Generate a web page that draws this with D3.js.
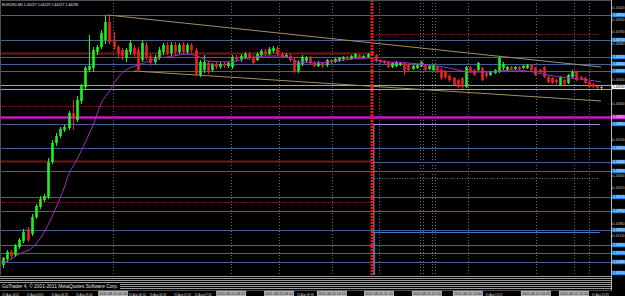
<!DOCTYPE html>
<html><head><meta charset="utf-8">
<script src="https://cdn.jsdelivr.net/npm/d3@7"></script>
<style>html,body{margin:0;padding:0;background:#000;overflow:hidden}svg{display:block}</style>
</head><body>
<script>
// ---------- data ----------
const symbolTitle = "EURUSD,M5  1.44227 1.44229 1.44227 1.44238";
const copyright = "GoTrader 4, \u00A9 2001-2011 MetaQuotes Software Corp.";

const opens = [
1.4245,1.4251,1.4258,1.4255,1.4263,1.4269,1.4281,1.4276,1.4293,1.4303,
1.4310,1.4313,1.4348,1.4367,1.4374,1.4380,1.4382,1.4397,1.4390,1.4409,
1.4423,1.4440,1.4442,1.4458,1.4463,1.4470,1.4488,1.4470,1.4463,1.4460,
1.4452,1.4458,1.4462,1.4460,1.4450,1.4465,1.4454,1.4448,1.4452,1.4458,
1.4465,1.4457,1.4465,1.4458,1.4466,1.4458,1.4465,1.4460,1.4435,1.4440,
1.4447,1.4440,1.4446,1.4443,1.4446,1.4444,1.4443,1.4453,1.4450,1.4453,
1.4456,1.4453,1.4450,1.4455,1.4459,1.4456,1.4459,1.4462,1.4456,1.4453,
1.4454,1.4450,1.4439,1.4446,1.4449,1.4452,1.4447,1.4444,1.4447,1.4445,
1.4450,1.4448,1.4449,1.4451,1.4453,1.4451,1.4453,1.4455,1.4452,1.4453,
1.4458,1.4455,1.4450,1.4449,1.4448,1.4443,1.4444,1.4445,1.4447,1.4446,
1.4441,1.4442,1.4444,1.4445,1.4441,1.4440,1.4443,1.4440,1.4438,1.4434,
1.4432,1.4430,1.4432,1.4423,1.4443,1.4440,1.4440,1.4442,1.4437,1.4435,
1.4437,1.4438,1.4442,1.4440,1.4443,1.4441,1.4443,1.4442,1.4442,1.4445,
1.4442,1.4440,1.4443,1.4433,1.4432,1.4430,1.4425,1.4430,1.4427,1.4433,
1.4438,1.4433,1.4432,1.4428,1.4426,1.4424,1.4422];
const closes = [
1.4252,1.4258,1.4254,1.4264,1.4270,1.4278,1.4270,1.4293,1.4304,1.4311,
1.4314,1.4348,1.4367,1.4374,1.4381,1.4383,1.4397,1.4392,1.4410,1.4424,
1.4442,1.4444,1.4460,1.4463,1.4477,1.4488,1.4468,1.4463,1.4457,1.4454,
1.4460,1.4467,1.4456,1.4440,1.4467,1.4452,1.4447,1.4453,1.4460,1.4465,
1.4457,1.4465,1.4458,1.4465,1.4458,1.4465,1.4460,1.4435,1.4448,1.4448,
1.4438,1.4445,1.4443,1.4446,1.4444,1.4447,1.4453,1.4450,1.4454,1.4456,
1.4452,1.4447,1.4456,1.4459,1.4456,1.4461,1.4462,1.4456,1.4453,1.4455,
1.4450,1.4438,1.4448,1.4453,1.4452,1.4447,1.4444,1.4447,1.4444,1.4450,
1.4448,1.4451,1.4452,1.4453,1.4451,1.4454,1.4456,1.4452,1.4454,1.4456,
1.4455,1.4449,1.4448,1.4447,1.4443,1.4447,1.4448,1.4447,1.4440,1.4440,
1.4444,1.4445,1.4448,1.4440,1.4444,1.4445,1.4438,1.4432,1.4433,1.4430,
1.4425,1.4423,1.4423,1.4443,1.4438,1.4435,1.4447,1.4430,1.4434,1.4438,
1.4440,1.4452,1.4446,1.4443,1.4441,1.4443,1.4441,1.4444,1.4445,1.4440,
1.4435,1.4438,1.4433,1.4428,1.4427,1.4428,1.4433,1.4426,1.4435,1.4438,
1.4430,1.4431,1.4427,1.4423,1.4423,1.4422,1.4423];
const highs = [
1.4253,1.4260,1.4260,1.4266,1.4272,1.4281,1.4283,1.4296,1.4306,1.4314,
1.4316,1.4352,1.4370,1.4377,1.4383,1.4385,1.4399,1.4410,1.4414,1.4426,
1.4444,1.4475,1.4463,1.4465,1.4480,1.4495,1.4494,1.4478,1.4465,1.4462,
1.4462,1.4470,1.4465,1.4463,1.4470,1.4468,1.4456,1.4455,1.4463,1.4467,
1.4468,1.4468,1.4468,1.4467,1.4468,1.4467,1.4467,1.4462,1.4450,1.4455,
1.4449,1.4447,1.4448,1.4448,1.4448,1.4449,1.4455,1.4455,1.4456,1.4458,
1.4458,1.4455,1.4458,1.4461,1.4461,1.4463,1.4464,1.4464,1.4458,1.4457,
1.4456,1.4452,1.4450,1.4455,1.4454,1.4454,1.4449,1.4449,1.4448,1.4451,
1.4451,1.4452,1.4453,1.4454,1.4454,1.4455,1.4457,1.4456,1.4455,1.4457,
1.4459,1.4456,1.4451,1.4450,1.4449,1.4448,1.4449,1.4448,1.4448,1.4447,
1.4445,1.4446,1.4449,1.4446,1.4445,1.4446,1.4444,1.4442,1.4440,1.4436,
1.4433,1.4431,1.4433,1.4444,1.4444,1.4441,1.4448,1.4443,1.4438,1.4439,
1.4441,1.4454,1.4448,1.4444,1.4444,1.4444,1.4444,1.4445,1.4446,1.4446,
1.4443,1.4441,1.4444,1.4434,1.4433,1.4431,1.4434,1.4431,1.4436,1.4440,
1.4439,1.4434,1.4433,1.4429,1.4427,1.4425,1.4424];
const lows = [
1.4242,1.4248,1.4251,1.4253,1.4261,1.4267,1.4268,1.4274,1.4291,1.4301,
1.4308,1.4311,1.4346,1.4364,1.4372,1.4378,1.4380,1.4380,1.4388,1.4406,
1.4420,1.4438,1.4438,1.4455,1.4461,1.4466,1.4466,1.4460,1.4453,1.4450,
1.4448,1.4455,1.4453,1.4438,1.4448,1.4450,1.4444,1.4445,1.4450,1.4455,
1.4455,1.4454,1.4455,1.4456,1.4456,1.4456,1.4457,1.4434,1.4433,1.4437,
1.4436,1.4438,1.4441,1.4441,1.4442,1.4442,1.4441,1.4448,1.4448,1.4451,
1.4450,1.4445,1.4449,1.4453,1.4454,1.4455,1.4457,1.4454,1.4452,1.4452,
1.4448,1.4437,1.4437,1.4444,1.4447,1.4445,1.4443,1.4443,1.4442,1.4443,
1.4446,1.4447,1.4448,1.4449,1.4450,1.4450,1.4452,1.4451,1.4451,1.4452,
1.4454,1.4448,1.4447,1.4446,1.4442,1.4442,1.4443,1.4444,1.4435,1.4439,
1.4440,1.4441,1.4443,1.4439,1.4440,1.4439,1.4437,1.4430,1.4431,1.4428,
1.4424,1.4422,1.4421,1.4422,1.4437,1.4434,1.4439,1.4429,1.4432,1.4434,
1.4436,1.4437,1.4440,1.4439,1.4440,1.4440,1.4440,1.4441,1.4441,1.4439,
1.4434,1.4437,1.4432,1.4427,1.4426,1.4426,1.4424,1.4425,1.4426,1.4432,
1.4429,1.4430,1.4426,1.4422,1.4422,1.4421,1.4421];

// moving average read at sample bars
const maIndex = [0,2,4,7,9,11,13,15,16,18,20,22,24,26,28,30,33,35,38,40,43,45,48,50,55,60,64,68,70,72,77,80,85,89,91,94,99,104,109,114,119,124,128,133,138,143,146];
const maValues = [1.4247,1.4251,1.4256,1.4262,1.4271,1.4285,1.4303,1.4323,1.4335,1.4350,1.4367,1.4385,1.4407,1.4419,1.4432,1.4440,1.4445,1.4448,1.4452,1.4453,1.4455,1.4456,1.4453,1.4449,1.4448,1.4452,1.4454,1.4454,1.4452,1.4448,1.4447,1.4448,1.4451,1.4452,1.4450,1.4448,1.4447,1.4445,1.4442,1.4438,1.4438,1.4440,1.4439,1.4435,1.4432,1.4430,1.4428];

// price axis labels (those not hidden by level boxes)
const priceTicks = [1.4502,1.4490,1.4478,1.4466,1.4430,1.4406,1.4370,1.4334,1.4322,1.4286,1.4274];

// horizontal levels
const blueLevels = [1.4495,1.4470,1.4453,1.4446,1.4439,1.4362,1.4339,1.4313,1.4299,1.4280,1.4257,1.4248];
const lavenderLevels = [1.4425,1.4421];
const magentaLevel = 1.4393;
const splitLevel = 1.4386;
const maroonLevels = [1.4457,1.4349];
const mauveLevel = 1.4265;
const redDottedLeft = [1.4404,1.4308];
const redDottedRight = [1.4476];
const rightSolidLevels = [1.4348];
const rightDottedLevels = [1.4332];
const rightBrightLevels = [1.4278];
const axisBoxLevels = [1.4495,1.4470,1.4453,1.4446,1.4439,1.4386,1.4362,1.4348,1.4339,1.4313,1.4299,1.4280,1.4265,1.4257,1.4248,1.4237];

// trendlines [barIndex, price]
const trendUpper = [[25.5,1.4495],[146,1.4443]];
const trendLower = [[32,1.4439],[146,1.4409]];

// vertical markers (bar index)
const eventBar = 90.1;
const rightEndBar = 145.7;
const separatorBars = [26.9,55.7,67.4,80.3,91.8,101.8,102.5,104.7,105.5,113.5,130.1,139.4,143.1];
const boxBars = [26.9,55.7,67.4,80.3,91.8,103.5,113.5,130.1,139.4];
const boxTimes = ["2011.08.15 05:50","2011.08.15 08:15","2011.08.15 09:10","2011.08.15 10:15","2011.08.15 11:15","2011.08.15 12:10","2011.08.15 13:00","2011.08.15 14:25","2011.08.15 15:10"];
const timeBars = [0,6,12,18,31,36,42,47,72,118,144];
const timeLabels = ["15 Aug 2011","15 Aug 04:05","15 Aug 04:35","15 Aug 05:05","15 Aug 06:10","15 Aug 06:35","15 Aug 07:05","15 Aug 07:30","15 Aug 09:35","15 Aug 13:25","15 Aug 15:35"];

// ---------- drawing ----------
const W = 625, H = 296, plotR = 611, plotB = 275;
const FONT = "Liberation Sans, Arial, sans-serif";
const svg = d3.select("body").append("svg").attr("width", W).attr("height", H).style("background", "#000");
const x = d3.scaleLinear().domain([0, 146]).range([3, 601]);
const y = d3.scaleLinear().domain([1.4235, 1.4510]).range([plotB, 0]);

svg.append("defs").append("clipPath").attr("id", "clip")
  .append("rect").attr("x", 0).attr("y", 0).attr("width", plotR).attr("height", plotB);
const plot = svg.append("g").attr("clip-path", "url(#clip)");

function hline(p, x0, x1, color, w, dash) {
  plot.append("line").attr("x1", x0).attr("x2", x1).attr("y1", Math.round(y(p)) + 0.5).attr("y2", Math.round(y(p)) + 0.5)
    .attr("stroke", color).attr("stroke-width", w).attr("stroke-dasharray", dash || null);
}

// separators
separatorBars.forEach(b => {
  plot.append("line").attr("x1", Math.round(x(b)) + 0.5).attr("x2", Math.round(x(b)) + 0.5).attr("y1", 0).attr("y2", plotB)
    .attr("stroke", "#6a6a6a").attr("stroke-width", 1).attr("stroke-dasharray", "1,2");
});

const xEvent = x(eventBar), xRightEnd = x(rightEndBar);
blueLevels.forEach(p => hline(p, 0, plotR, "#44618f", 1));
lavenderLevels.forEach(p => hline(p, 0, plotR, "#9c9cd8", 1));
maroonLevels.forEach(p => hline(p, 0, xEvent, "#6e1818", 2));
hline(mauveLevel, 0, xEvent, "#95486a", 1);
hline(mauveLevel, xEvent, plotR, "#44618f", 1);
redDottedLeft.forEach(p => hline(p, 0, xEvent, "#a01414", 1, "1,1"));
redDottedRight.forEach(p => hline(p, xEvent, xRightEnd, "#a01414", 1, "1,1"));
rightSolidLevels.forEach(p => hline(p, xEvent, plotR, "#44618f", 1));
rightDottedLevels.forEach(p => hline(p, xEvent, xRightEnd, "#5a7ab0", 1, "1,1.5"));
rightBrightLevels.forEach(p => hline(p, xEvent, xRightEnd, "#3a7cd0", 1));
hline(splitLevel, 0, xEvent, "#44618f", 1);
hline(splitLevel, xEvent, xRightEnd, "#a48ee0", 1);
hline(magentaLevel, 0, plotR, "#c21cc2", 2.5);

// trendlines
[trendUpper, trendLower].forEach(t => {
  plot.append("line").attr("x1", x(t[0][0])).attr("y1", y(t[0][1])).attr("x2", x(t[1][0])).attr("y2", y(t[1][1]))
    .attr("stroke", "#a68c62").attr("stroke-width", 1);
});

// vertical markers at event
plot.append("line").attr("x1", xEvent + 1.8).attr("x2", xEvent + 1.8).attr("y1", y(splitLevel)).attr("y2", plotB)
  .attr("stroke", "#a48ee0").attr("stroke-width", 1);
plot.append("line").attr("x1", xEvent + 2.6).attr("x2", xEvent + 2.6).attr("y1", y(rightBrightLevels[0])).attr("y2", plotB)
  .attr("stroke", "#3a7cd0").attr("stroke-width", 1);

// candles
const bars = opens.map((o, i) => ({ i, o, c: closes[i], h: highs[i], l: lows[i] }));
const g = plot.append("g");
bars.forEach(d => {
  const col = d.c >= d.o ? "#22f022" : "#f02020";
  const cx = Math.round(x(d.i)) + 0.5;
  g.append("line").attr("x1", cx).attr("x2", cx).attr("y1", y(d.h)).attr("y2", y(d.l)).attr("stroke", col).attr("stroke-width", 1);
  const top = Math.min(y(d.o), y(d.c)), hgt = Math.max(1, Math.abs(y(d.o) - y(d.c)));
  g.append("rect").attr("x", cx - 1.3).attr("y", top).attr("width", 2.6).attr("height", hgt).attr("fill", col);
});

// MA
plot.append("path").datum(maIndex.map((b, k) => [b, maValues[k]]))
  .attr("d", d3.line().x(d => x(d[0])).y(d => y(d[1])).curve(d3.curveMonotoneX))
  .attr("fill", "none").attr("stroke", "#a42ec8").attr("stroke-width", 1);

// event line
plot.append("line").attr("x1", xEvent).attr("x2", xEvent).attr("y1", 0).attr("y2", plotB)
  .attr("stroke", "#ee1818").attr("stroke-width", 3).attr("stroke-dasharray", "2,1");

// header
svg.append("text").attr("x", 2).attr("y", 6).attr("fill", "#e8e8e8").attr("font-family", FONT).attr("font-size", 4)
  .attr("textLength", 76).attr("lengthAdjust", "spacingAndGlyphs").text(symbolTitle);

// frame
svg.append("line").attr("x1", plotR + 0.5).attr("x2", plotR + 0.5).attr("y1", 0).attr("y2", 291).attr("stroke", "#b8b8b8");
svg.append("line").attr("x1", 0).attr("x2", plotR).attr("y1", 0.5).attr("y2", 0.5).attr("stroke", "#505050");
svg.append("line").attr("x1", 0.5).attr("x2", 0.5).attr("y1", 0).attr("y2", plotB).attr("stroke", "#505050");

// right price axis
const ax = svg.append("g");
priceTicks.forEach(p => {
  const yy = y(p);
  ax.append("line").attr("x1", plotR).attr("x2", plotR + 2).attr("y1", yy).attr("y2", yy).attr("stroke", "#b8b8b8");
  ax.append("text").attr("x", plotR + 2).attr("y", yy + 1.3).attr("fill", "#c8c8c8").attr("font-family", FONT)
    .attr("font-size", 3.6).attr("textLength", 11.5).attr("lengthAdjust", "spacingAndGlyphs").text(p.toFixed(5));
});
function axisBox(p, bg, fg) {
  const yy = y(p);
  ax.append("rect").attr("x", plotR + 1).attr("y", yy - 2.2).attr("width", W - plotR - 1).attr("height", 4.4).attr("fill", bg);
  ax.append("text").attr("x", plotR + 2).attr("y", yy + 1.3).attr("fill", fg).attr("font-family", FONT)
    .attr("font-size", 3.6).attr("textLength", 11.5).attr("lengthAdjust", "spacingAndGlyphs").text(p.toFixed(5));
}
axisBoxLevels.forEach(p => axisBox(p, "#1e88e8", "#ffffff"));
axisBox(magentaLevel, "#e020e0", "#ffffff");
axisBox(closes[closes.length - 1], "#ffffff", "#000000");

// bottom band
const band = svg.append("g");
d3.range(276, 291, 2).forEach(v => {
  band.append("line").attr("x1", 0).attr("x2", plotR).attr("y1", v + 0.5).attr("y2", v + 0.5).attr("stroke", "#9a9a9a");
});
band.append("rect").attr("x", 0).attr("y", 283).attr("width", 120).attr("height", 6).attr("fill", "#000");
band.append("text").attr("x", 2).attr("y", 288.2).attr("fill", "#e0e0e0").attr("font-family", FONT).attr("font-size", 5)
  .attr("textLength", 116).attr("lengthAdjust", "spacingAndGlyphs").text(copyright);

// time axis
const ta = svg.append("g");
ta.append("rect").attr("x", 0).attr("y", 290.5).attr("width", W).attr("height", 6).attr("fill", "#000");
timeBars.forEach((b, k) => {
  ta.append("text").attr("x", x(b) - 1).attr("y", 295.5).attr("fill", "#d8d8d8").attr("font-family", FONT)
    .attr("font-size", 3.8).attr("textLength", 17).attr("lengthAdjust", "spacingAndGlyphs").text(timeLabels[k]);
});
boxBars.forEach((b, k) => {
  const cx = x(b);
  ta.append("rect").attr("x", cx - 15).attr("y", 290.8).attr("width", 30).attr("height", 5.2).attr("fill", "#b4b4b4");
  ta.append("text").attr("x", cx - 14).attr("y", 295.3).attr("fill", "#111").attr("font-family", FONT)
    .attr("font-size", 3.8).attr("textLength", 28).attr("lengthAdjust", "spacingAndGlyphs").text(boxTimes[k]);
});
</script>
</body></html>
